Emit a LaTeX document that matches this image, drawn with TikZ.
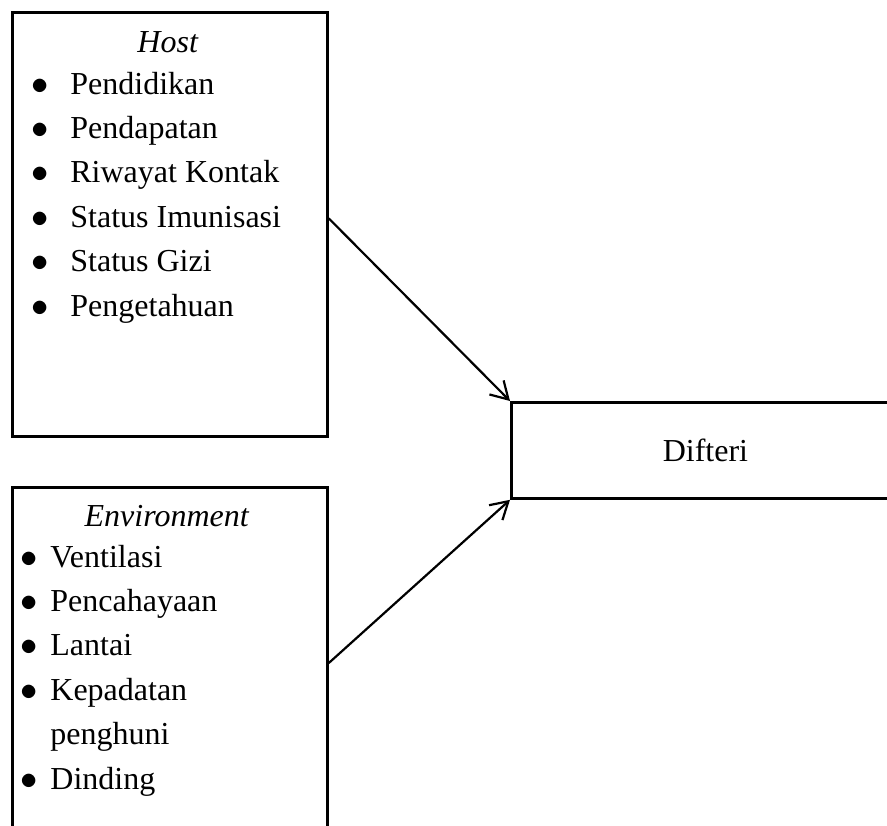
\documentclass[tikz,border=0pt]{standalone}
\usepackage{fontspec}
\setmainfont{Liberation Serif}
\usepackage{tikz}
\usetikzlibrary{arrows.meta}
\tikzset{
every node/.style={inner sep=0pt, font=\fontsize{16}{22.2}\selectfont},
box/.style={rectangle, draw, line width=1.4pt},
arr/.style={-{Straight Barb[length=8.5pt, width=10pt]}, line width=1.1pt}
}

\begin{document}
\begin{tikzpicture}[x=0.5pt, y=-0.5pt]
\useasboundingbox (0,0) rectangle (887,825);
\clip (0,0) rectangle (887,825);

\node[box, anchor=north west, minimum width=157.5pt, minimum height=212pt] (host) at (11,11) {};
\node[box, anchor=north west, minimum width=157.5pt, minimum height=200pt] (env) at (11,486) {};
\node[box, anchor=north west, minimum width=194pt, minimum height=48pt] (difteri) at (510,401) {Difteri};

\node[anchor=base] (hosttitle) at (168,52) {\textit{Host}};
\foreach \txt [count=\i from 0] in {Pendidikan, Pendapatan, Riwayat Kontak, Status Imunisasi, Status Gizi, Pengetahuan}
  \node[anchor=base west] (h\i) at (31,94+44.4*\i) {\makebox[19.5pt][l]{$\bullet$}\txt};

\node[anchor=base] (envtitle) at (167,526) {\textit{Environment}};
\foreach \txt/\blt [count=\i from 0] in {Ventilasi/$\bullet$, Pencahayaan/$\bullet$, Lantai/$\bullet$, Kepadatan/$\bullet$, penghuni/{}, Dinding/$\bullet$}
  \node[anchor=base west] (e\i) at (20,567+44.4*\i) {\makebox[15pt][l]{\blt}\txt};

\draw[arr] ([yshift=3pt]host.east) -- (difteri.north west);
\draw[arr] ([yshift=-88.5pt]env.north east) -- (difteri.south west);
\end{tikzpicture}
\end{document}
